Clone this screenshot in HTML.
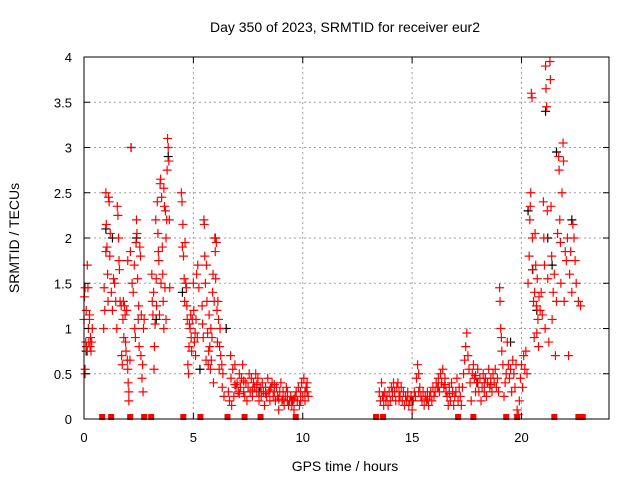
<!DOCTYPE html>
<html><head><meta charset="utf-8"><style>
body{margin:0;background:#fff;}
svg{display:block;font-family:"Liberation Sans",sans-serif;}
</style></head><body>
<svg id="chart" width="640" height="480" viewBox="0 0 640 480">
<rect width="640" height="480" fill="#fff"/>
<text x="345" y="32" font-size="14" text-anchor="middle">Day 350 of 2023, SRMTID for receiver eur2</text>
<text x="0" y="0" font-size="14" text-anchor="middle" transform="translate(19,238) rotate(-90)">SRMTID / TECUs</text>
<text x="345" y="471" font-size="14" text-anchor="middle">GPS time / hours</text>
<g id="grid"></g><g id="marks"></g><g id="axes"></g>
</svg>
<script>
const xTicks=[0,5,10,15,20];
const yTicks=[0,0.5,1,1.5,2,2.5,3,3.5,4];
const yTickLabels=["0","0.5","1","1.5","2","2.5","3","3.5","4"];
const gapTimes=[0.83,1.24,2.11,2.75,3.07,4.54,5.32,6.56,7.34,8.07,9.68,13.35,13.67,17.1,17.8,19.3,19.8,21.5,22.6,22.8];
const redPts=[[0.0,1.1],[0.02,1.35],[0.05,0.55],[0.05,1.45],[0.08,0.85],[0.1,1.2],[0.12,0.8],[0.15,1.7],[0.15,0.75],[0.18,1.45],[0.2,1.0],[0.22,0.85],[0.25,1.1],[0.28,0.8],[0.3,0.9],[0.32,0.75],[0.35,0.85],[0.38,1.0],[0.05,0.5],[0.25,1.15],
[0.9,1.0],[0.92,1.45],[0.95,1.2],[1.0,2.5],[1.0,1.85],[1.02,2.15],[1.05,1.9],[1.08,1.6],[1.1,1.3],[1.12,2.45],[1.15,2.4],[1.18,1.8],[1.2,2.05],[1.25,1.4],[1.3,1.2],[1.35,1.55],
[1.4,1.5],[1.45,1.3],[1.5,1.0],[1.52,2.35],[1.55,2.25],[1.58,2.0],[1.6,1.75],[1.62,1.65],[1.65,1.3],[1.7,1.25],[1.72,0.7],[1.75,0.6],[1.78,1.1],[1.8,1.3],[1.82,0.9],[1.85,1.25],[1.88,1.15],[1.9,0.85],[1.92,0.75],[1.95,1.2],[1.98,0.65],[2.0,0.55],[2.02,0.4],[2.05,0.3],[2.05,0.2],[2.1,0.65],[2.12,1.85],[2.15,3.0],[2.0,1.75],
[2.2,1.5],[2.25,1.4],[2.3,1.7],[2.32,1.0],[2.35,0.9],[2.38,1.95],[2.4,2.2],[2.42,2.05],[2.45,1.55],[2.48,1.1],[2.5,1.25],[2.52,0.8],[2.55,1.9],[2.58,1.8],[2.6,0.7],[2.62,1.15],[2.65,0.45],[2.68,0.6],[2.7,0.3],[2.72,1.0],[2.75,1.1],
[3.1,1.6],[3.12,1.3],[3.15,1.15],[3.18,1.4],[3.2,0.55],[3.22,0.8],[3.25,1.05],[3.28,2.2],[3.3,1.55],[3.32,1.25],[3.35,2.4],[3.38,2.05],[3.4,1.85],[3.42,1.75],[3.45,1.15],[3.48,2.6],[3.5,2.65],[3.52,1.5],[3.55,2.45],[3.58,1.9],[3.6,1.6],[3.62,1.3],[3.65,2.55],[3.68,2.35],[3.7,1.45],[3.72,2.3],[3.75,2.0],[3.78,2.2],[3.8,2.75],[3.82,3.1],[3.85,3.0],[3.88,2.85],[3.9,2.2],[3.92,1.45],[3.65,1.0],[3.75,1.1],
[4.45,2.5],[4.48,2.4],[4.5,1.9],[4.52,2.15],[4.55,1.8],[4.58,1.55],[4.6,1.3],[4.62,1.95],[4.65,1.5],[4.68,1.45],[4.7,1.25],[4.72,1.1],[4.75,0.6],[4.78,0.5],[4.8,0.8],[4.82,1.05],[4.85,1.0],[4.88,1.15],[4.9,0.9],[4.92,0.75],[4.95,1.1],[5.0,1.5],[5.02,1.2],[5.05,0.85],[5.08,0.95],[5.1,0.7],[5.12,1.1],[5.15,1.6],[5.18,0.9],[5.2,1.7],[5.25,1.45],
[5.4,1.25],[5.42,1.05],[5.45,0.9],[5.48,2.2],[5.5,2.15],[5.52,1.8],[5.55,1.5],[5.58,0.65],[5.6,1.7],[5.62,1.3],[5.65,0.95],[5.68,0.6],[5.7,0.75],[5.72,1.15],[5.75,0.8],[5.78,0.55],[5.8,1.0],[5.82,0.65],[5.85,0.9],[5.88,1.4],[5.9,1.6],[5.92,0.4],[5.95,1.3],[5.98,2.0],[6.0,1.85],[6.02,1.55],[6.05,1.95],[6.08,1.2],[6.1,0.85],[6.12,1.3],[6.15,1.1],[6.18,0.55],[6.2,0.8],[6.22,1.0],[6.25,0.7],[6.3,0.6],[6.32,0.35],[6.35,0.5],[6.4,0.25],
[6.6,0.3],[6.65,0.2],[6.7,0.7],[6.72,0.45],[6.75,0.15],[6.8,0.55],[6.85,0.25],[6.9,0.6],[6.95,0.35],[7.0,0.4],[7.05,0.3],[7.1,0.5],[7.15,0.35],[7.2,0.45],[7.25,0.6],[7.3,0.3],[7.35,0.25],[7.4,0.4],[7.45,0.2],[7.5,0.35],[7.55,0.5],[7.6,0.3],[7.65,0.45],[7.7,0.25],[7.75,0.4],[7.8,0.35],[7.85,0.5],[7.9,0.3],[7.95,0.45],[8.0,0.2],[8.05,0.35],[8.1,0.25],[8.15,0.4],[8.2,0.3],[8.25,0.15],[8.3,0.35],[8.35,0.25],[8.4,0.45],[8.45,0.3],[8.5,0.2],[8.55,0.35],[8.6,0.4],[8.65,0.25],[8.7,0.3],[8.75,0.2],[8.8,0.35],[8.85,0.25],[8.9,0.1],[8.95,0.3],[9.0,0.4],[9.05,0.2],[9.1,0.3],[9.15,0.15],[9.2,0.25],[9.25,0.35],[9.3,0.2],[9.35,0.15],[9.4,0.2],[9.45,0.25],[9.5,0.15],[9.55,0.2],[9.6,0.1],[9.65,0.25],[9.7,0.3],[9.75,0.2],[9.8,0.35],[9.85,0.15],[9.9,0.3],[9.95,0.4],[10.0,0.25],[10.05,0.45],[10.1,0.2],[10.15,0.35],[10.2,0.3],[10.25,0.25],
[6.9,0.38],[7.1,0.28],[7.3,0.42],[7.7,0.32],[7.9,0.38],[8.1,0.3],[8.3,0.28],[8.5,0.32],[8.7,0.38],[8.9,0.22],[9.1,0.22],[9.3,0.3],[9.6,0.22],[9.9,0.2],[10.1,0.3],[10.2,0.4],
[13.5,0.3],[13.55,0.2],[13.6,0.4],[13.65,0.25],[13.7,0.15],[13.75,0.3],[13.8,0.2],[13.85,0.25],[13.9,0.15],[13.95,0.3],[14.0,0.2],[14.05,0.35],[14.1,0.25],[14.15,0.4],[14.2,0.3],[14.25,0.2],[14.3,0.35],[14.35,0.4],[14.4,0.3],[14.45,0.25],[14.5,0.35],[14.55,0.2],[14.6,0.3],[14.65,0.15],[14.7,0.25],[14.75,0.2],[14.8,0.3],[14.85,0.15],[14.9,0.2],[14.95,0.25],[15.0,0.1],[15.05,0.2],[15.1,0.3],[15.15,0.25],[15.2,0.45],[15.25,0.6],[15.3,0.5],[15.35,0.35],[15.4,0.25],[15.45,0.2],[15.5,0.3],[15.55,0.15],[15.6,0.25],[15.65,0.2],[15.7,0.3],[15.75,0.15],[15.8,0.25],[15.85,0.3],[15.9,0.2],[15.95,0.35],[16.0,0.25],[16.05,0.3],[16.1,0.4],[16.15,0.35],[16.2,0.45],[16.25,0.3],[16.3,0.5],[16.35,0.4],[16.4,0.55],[16.45,0.35],[16.5,0.45],[16.55,0.3],[16.6,0.25],[16.65,0.15],[16.7,0.35],[16.75,0.2],[16.8,0.4],[16.85,0.3],[16.9,0.15],[16.95,0.25],[17.0,0.3],[17.05,0.45],[17.1,0.2],[17.15,0.35],[17.2,0.25],[17.25,0.15],[17.3,0.35],[17.35,0.5],[17.4,0.65],[17.45,0.8],[17.5,0.95],[17.55,0.7],[17.6,0.55],[17.65,0.4],[17.7,0.2],[17.75,0.5],[17.8,0.6],[17.85,0.45],[17.9,0.3],[17.95,0.4],[18.0,0.55],[18.05,0.3],[18.1,0.45],[18.15,0.2],[18.2,0.35],[18.25,0.5],[18.3,0.3],[18.35,0.45],[18.4,0.25],[18.45,0.4],[18.5,0.55],[18.55,0.35],[18.6,0.45],[18.65,0.3],[18.7,0.5],[18.75,0.4],[18.8,0.55],[18.85,0.35],[18.9,0.45],[18.95,0.3],
[13.7,0.25],[14.1,0.3],[14.4,0.2],[14.8,0.25],[15.3,0.3],[15.7,0.22],[16.2,0.35],[16.5,0.38],[16.7,0.28],[17.9,0.48],[18.3,0.4],[18.6,0.38],
[19.0,1.45],[19.02,1.3],[19.05,1.0],[19.08,0.9],[19.1,0.75],[19.15,0.6],[19.2,0.25],[19.25,0.4],[19.3,0.5],[19.35,0.85],[19.4,0.6],[19.45,0.45],[19.5,0.55],[19.55,0.3],[19.6,0.65],[19.65,0.5],[19.7,0.35],[19.75,0.6],[19.8,0.1],[19.85,0.05],[19.9,0.2],[19.95,0.45],[20.0,0.6],[20.05,0.35],[20.1,0.7],[20.15,0.55],[20.2,0.75],[20.25,0.5],
[20.3,1.5],[20.35,1.8],[20.38,2.2],[20.4,2.35],[20.42,2.5],[20.45,3.6],[20.48,3.55],[20.5,2.0],[20.52,1.65],[20.55,1.3],[20.58,0.9],[20.6,1.4],[20.62,2.05],[20.65,1.7],[20.68,1.25],[20.7,0.95],[20.72,1.55],[20.75,1.1],[20.78,0.8],[20.8,1.35],[20.85,1.2],[20.9,1.4],[20.95,1.15],[21.0,2.4],[21.02,2.0],[21.05,1.7],[21.08,1.0],[21.1,3.9],[21.12,3.65],[21.15,3.45],[21.18,2.3],[21.2,1.55],[21.25,0.85],[21.3,3.95],[21.32,3.75],[21.35,2.35],[21.38,1.8],[21.4,1.1],[21.45,1.4],[21.5,1.6],[21.55,0.7],[21.6,1.3],[21.65,2.05],[21.7,2.9],[21.72,2.75],[21.75,2.2],[21.78,1.95],[21.8,1.5],[21.85,2.5],[21.9,3.05],[21.92,2.85],[21.95,1.3],[22.0,1.85],[22.05,1.75],[22.1,2.0],[22.15,0.7],[22.2,1.6],[22.25,1.85],[22.3,1.4],[22.35,2.15],[22.4,2.0],[22.45,1.75],[22.5,1.5],[22.6,1.3],[22.7,1.25]];
const blackPts=[[0.1,0.75],[1.0,2.1],[1.3,2.0],[2.15,3.0],[2.4,2.0],[3.3,1.1],[3.85,2.9],[4.5,1.4],[5.3,0.55],[6.0,2.0],[6.5,1.0],[8.0,0.3],[9.5,0.2],[15.0,0.2],[18.0,0.4],[19.5,0.85],[20.3,2.3],[20.5,1.65],[20.7,1.2],[21.1,3.4],[21.2,2.0],[21.4,1.7],[21.6,2.95],[22.3,2.2]];
const X0=84,X1=609,Y0=419,Y1=57,XMAX=24,YMAX=4;
function sx(t){return X0+(X1-X0)*t/XMAX;}
function sy(v){return Y0-(Y0-Y1)*v/YMAX;}
const NS="http://www.w3.org/2000/svg";
function mk(tag,attrs,parent){const e=document.createElementNS(NS,tag);for(const k in attrs)e.setAttribute(k,attrs[k]);parent.appendChild(e);return e;}
const grid=document.getElementById('grid'),marks=document.getElementById('marks'),axes=document.getElementById('axes');
xTicks.forEach(t=>{
  if(t>0){const g=mk('line',{x1:sx(t),x2:sx(t),y1:Y0,y2:Y1,stroke:'#a0a0a0','stroke-dasharray':'2,3'},grid);
  
  }
  const lb=mk('text',{x:sx(t),y:Y0+23,'font-size':13,'text-anchor':'middle'},axes);lb.textContent=t;
  
  
  mk('line',{x1:sx(t),x2:sx(t),y1:Y0,y2:Y0-6,stroke:'#000'},axes);
  mk('line',{x1:sx(t),x2:sx(t),y1:Y1,y2:Y1+6,stroke:'#000'},axes);
});
yTicks.forEach((v,i)=>{
  if(v>0&&v<YMAX){const g=mk('line',{x1:X0,x2:X1,y1:sy(v),y2:sy(v),stroke:'#a0a0a0','stroke-dasharray':'2,3'},grid);
  
  }
  const lb=mk('text',{x:X0-12,y:sy(v)+5,'font-size':13,'text-anchor':'end'},axes);lb.textContent=yTickLabels[i];
  
  
  mk('line',{x1:X0,x2:X0+6,y1:sy(v),y2:sy(v),stroke:'#000'},axes);
  mk('line',{x1:X1,x2:X1-6,y1:sy(v),y2:sy(v),stroke:'#000'},axes);
});
const frame=mk('rect',{x:X0,y:Y1,width:X1-X0,height:Y0-Y1,fill:'none',stroke:'#000'},axes);


function plus(t,v,col,name){
  const x=sx(t),y=sy(v);
  const p=mk('path',{d:`M${x-4.5},${y}H${x+4.5}M${x},${y-4.5}V${y+4.5}`,stroke:col,'stroke-width':1.2,fill:'none'},marks);
  
  
}
blackPts.forEach(p=>plus(p[0],p[1],'#000','black-point'));
redPts.forEach(p=>plus(p[0],p[1],'#ff0000','red-point'));
gapTimes.forEach(t=>{
  const r=mk('rect',{x:sx(t)-3,y:Y0-5,width:6,height:6,fill:'#ff0000'},marks);
  
  
});
</script>
</body></html>
